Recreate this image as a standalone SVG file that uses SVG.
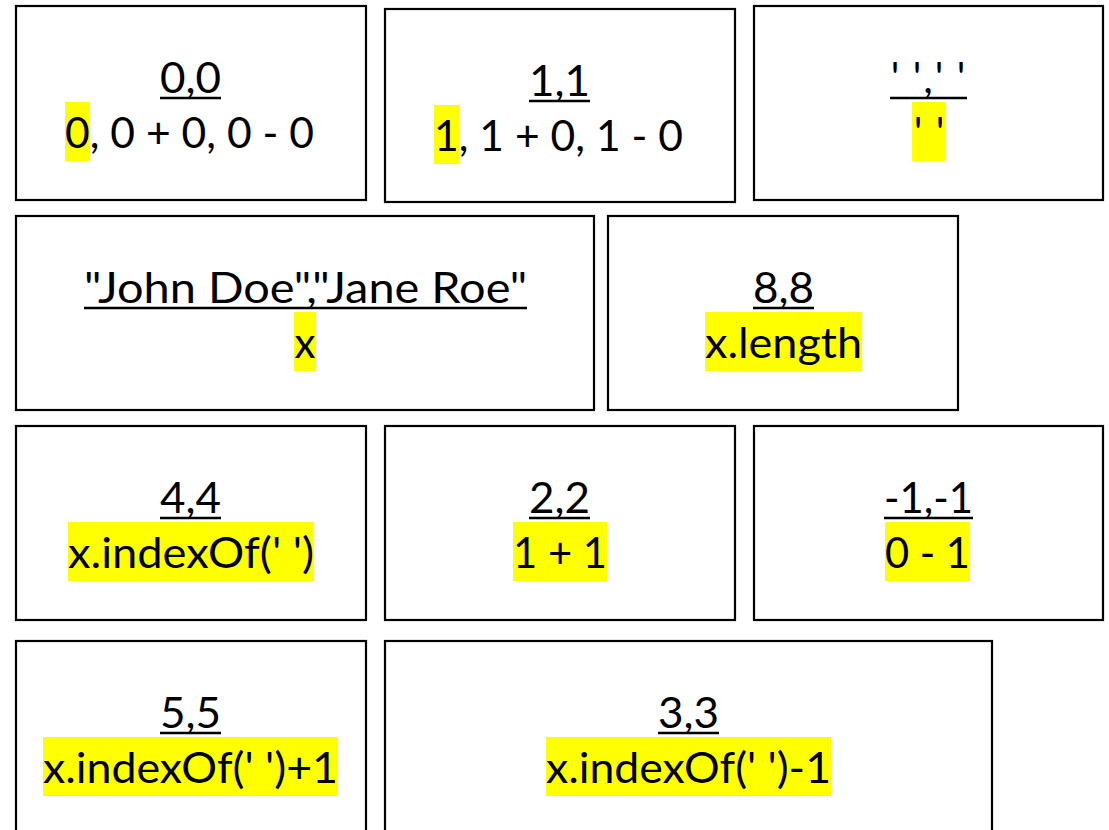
<svg xmlns="http://www.w3.org/2000/svg" width="1109" height="830" viewBox="0 0 1109 830">
<style>
.box{fill:#fff;stroke:#000;stroke-width:2.2}
.t{font-family:Lato,"Liberation Sans",sans-serif;font-size:42px;fill:#000}
.ul{stroke:#000;stroke-width:2.7}
.hl{fill:#ffff00}
</style>
<rect width="1109" height="830" fill="#fff"/>
<g id="n00">
<rect class="box" x="16" y="6" width="350" height="194"/>
<rect class="hl" x="65" y="102" width="25" height="59"/>
<text class="t" x="160" y="93" textLength="61" lengthAdjust="spacingAndGlyphs">0,0</text>
<line class="ul" x1="160" y1="98" x2="221" y2="98"/>
<text class="t" x="65" y="148" textLength="249" lengthAdjust="spacingAndGlyphs">0, 0 + 0, 0 - 0</text>
</g>
<g id="n11">
<rect class="box" x="385" y="9" width="350" height="193"/>
<rect class="hl" x="434" y="105" width="25" height="59"/>
<text class="t" x="529" y="96" textLength="61" lengthAdjust="spacingAndGlyphs">1,1</text>
<line class="ul" x1="529" y1="101" x2="590" y2="101"/>
<text class="t" x="434" y="151" textLength="249" lengthAdjust="spacingAndGlyphs">1, 1 + 0, 1 - 0</text>
</g>
<g id="nquote">
<rect class="box" x="754" y="6" width="349" height="194"/>
<rect class="hl" x="912" y="102" width="33" height="59"/>
<text class="t" x="895 906 917 928 939 950 961" y="93" text-anchor="middle">' ',' '</text>
<line class="ul" x1="890" y1="98" x2="967" y2="98"/>
<text class="t" x="918 929 940" y="148" text-anchor="middle">' '</text>
</g>
<g id="nnames">
<rect class="box" x="16" y="216" width="578" height="194"/>
<rect class="hl" x="294" y="312" width="22" height="59"/>
<text class="t" x="84" y="303" textLength="443" lengthAdjust="spacingAndGlyphs">"John Doe","Jane Roe"</text>
<line class="ul" x1="84" y1="308" x2="527" y2="308"/>
<text class="t" x="294.5" y="358">x</text>
</g>
<g id="n88">
<rect class="box" x="608" y="216" width="350" height="194"/>
<rect class="hl" x="705" y="312" width="157" height="59"/>
<text class="t" x="753" y="303" textLength="61" lengthAdjust="spacingAndGlyphs">8,8</text>
<line class="ul" x1="753" y1="308" x2="814" y2="308"/>
<text class="t" x="705" y="358" textLength="157" lengthAdjust="spacingAndGlyphs">x.length</text>
</g>
<g id="n44">
<rect class="box" x="16" y="426" width="350" height="194"/>
<rect class="hl" x="68" y="522" width="246" height="59"/>
<text class="t" x="160" y="513" textLength="61" lengthAdjust="spacingAndGlyphs">4,4</text>
<line class="ul" x1="160" y1="518" x2="221" y2="518"/>
<text class="t" x="68" y="568" textLength="246" lengthAdjust="spacingAndGlyphs">x.indexOf(' ')</text>
</g>
<g id="n22">
<rect class="box" x="385" y="426" width="350" height="194"/>
<rect class="hl" x="513" y="522" width="94" height="59"/>
<text class="t" x="529" y="513" textLength="61" lengthAdjust="spacingAndGlyphs">2,2</text>
<line class="ul" x1="529" y1="518" x2="590" y2="518"/>
<text class="t" x="513" y="568" textLength="94" lengthAdjust="spacingAndGlyphs">1 + 1</text>
</g>
<g id="nm1">
<rect class="box" x="754" y="426" width="349" height="194"/>
<rect class="hl" x="885" y="522" width="85" height="59"/>
<text class="t" x="884" y="513" textLength="89" lengthAdjust="spacingAndGlyphs">-1,-1</text>
<line class="ul" x1="884" y1="518" x2="973" y2="518"/>
<text class="t" x="885" y="568" textLength="85" lengthAdjust="spacingAndGlyphs">0 - 1</text>
</g>
<g id="n55">
<rect class="box" x="16" y="641" width="350" height="200"/>
<rect class="hl" x="43" y="737" width="295" height="59"/>
<text class="t" x="160" y="728" textLength="61" lengthAdjust="spacingAndGlyphs">5,5</text>
<line class="ul" x1="160" y1="733" x2="221" y2="733"/>
<text class="t" x="43" y="783" textLength="295" lengthAdjust="spacingAndGlyphs">x.indexOf(' ')+1</text>
</g>
<g id="n33">
<rect class="box" x="385" y="641" width="607" height="200"/>
<rect class="hl" x="546" y="737" width="285" height="59"/>
<text class="t" x="658" y="728" textLength="61" lengthAdjust="spacingAndGlyphs">3,3</text>
<line class="ul" x1="658" y1="733" x2="719" y2="733"/>
<text class="t" x="546" y="783" textLength="285" lengthAdjust="spacingAndGlyphs">x.indexOf(' ')-1</text>
</g>
</svg>
